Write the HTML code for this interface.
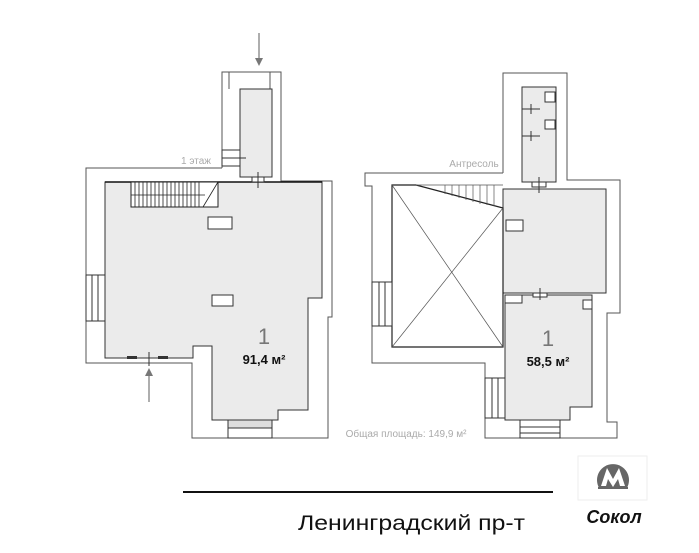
<!DOCTYPE html>
<html><head><meta charset="utf-8"><style>
body{margin:0;background:#fff;width:699px;height:553px;overflow:hidden}
svg{display:block;font-family:"Liberation Sans",sans-serif}
</style></head><body>
<svg width="699" height="553" viewBox="0 0 699 553" xmlns="http://www.w3.org/2000/svg">
<g fill="none" stroke="#555" stroke-width="1">
<polyline points="222,168 222,72 281,72 281,181 332,181 332,317 328,317 328,438 192,438 192,363 86,363 86,168 222,168"/>
<line x1="229" y1="72" x2="229" y2="89"/><line x1="270" y1="72" x2="270" y2="89"/>
</g>
<polygon points="105,182 322,182 322,298 308,298 308,410 278,410 278,420 212,420 212,346 193,346 193,358 105,358" fill="#ebebeb" stroke="#333"/>
<rect x="240" y="89" width="32" height="88" fill="#ebebeb" stroke="#333"/>
<line x1="105" y1="182" x2="322" y2="182" stroke="#111" stroke-width="1.5"/>
<rect x="131" y="182" width="87" height="25" fill="#fff" stroke="#222"/>
<g stroke="#222" stroke-width="0.8">
<line x1="135" y1="182" x2="135" y2="207"/><line x1="139" y1="182" x2="139" y2="207"/><line x1="143" y1="182" x2="143" y2="207"/><line x1="147" y1="182" x2="147" y2="207"/><line x1="151" y1="182" x2="151" y2="207"/><line x1="155" y1="182" x2="155" y2="207"/><line x1="159" y1="182" x2="159" y2="207"/><line x1="163" y1="182" x2="163" y2="207"/><line x1="167" y1="182" x2="167" y2="207"/><line x1="171" y1="182" x2="171" y2="207"/><line x1="175" y1="182" x2="175" y2="207"/><line x1="179" y1="182" x2="179" y2="207"/><line x1="183" y1="182" x2="183" y2="207"/><line x1="187" y1="182" x2="187" y2="207"/><line x1="191" y1="182" x2="191" y2="207"/><line x1="195" y1="182" x2="195" y2="207"/><line x1="199" y1="182" x2="199" y2="207"/>
<line x1="131" y1="195" x2="205" y2="195"/><line x1="203" y1="207" x2="218" y2="182"/>
</g>
<rect x="208" y="217" width="24" height="12" fill="#fff" stroke="#333"/>
<rect x="212" y="295" width="21" height="11" fill="#fff" stroke="#333"/>
<g stroke="#333" fill="#fff">
<rect x="86" y="275" width="19" height="46"/><line x1="92" y1="275" x2="92" y2="321"/><line x1="98" y1="275" x2="98" y2="321"/>
<rect x="222" y="150" width="18" height="16"/><line x1="222" y1="158" x2="246" y2="158"/>
<rect x="252" y="177" width="12" height="5"/><line x1="258" y1="172" x2="258" y2="188"/>
<rect x="228" y="420" width="44" height="8" fill="#ddd"/>
<rect x="228" y="428" width="44" height="10"/>
<line x1="149" y1="352" x2="149" y2="366"/>
</g>
<rect x="127" y="356" width="10" height="3" fill="#333"/><rect x="158" y="356" width="10" height="3" fill="#333"/>
<g stroke="#777" stroke-width="1.2">
<line x1="259" y1="33" x2="259" y2="62"/><line x1="149" y1="402" x2="149" y2="372"/>
</g>
<polygon points="255,58 263,58 259,66" fill="#777"/><polygon points="145,376 153,376 149,368" fill="#777"/>
<text x="196" y="164" font-size="10" fill="#aaa" text-anchor="middle">1 этаж</text>
<text x="264" y="344" font-size="22" fill="#777" text-anchor="middle">1</text>
<text x="264" y="364" font-size="13" font-weight="bold" fill="#111" text-anchor="middle">91,4 м²</text>

<g fill="none" stroke="#555">
<polyline points="503,173 503,73 567,73 567,180 620,180 620,313 607,313 607,422 617,422 617,438 485,438 485,363 372,363 372,186 365,186 365,173 503,173"/>
</g>
<rect x="522" y="87" width="34" height="95" fill="#ebebeb" stroke="#333"/>
<rect x="503" y="189" width="103" height="104" fill="#ebebeb" stroke="#333"/>
<polygon points="505,295 592,295 592,407 570,407 570,420 505,420" fill="#ebebeb" stroke="#333"/>
<polygon points="392,185 416,185 503,208 503,347 392,347" fill="#fff" stroke="#222" stroke-width="1.2"/>
<g stroke="#555" stroke-width="0.7">
<line x1="392" y1="185" x2="503" y2="347"/><line x1="503" y1="208" x2="392" y2="347"/>
<line x1="445" y1="185" x2="445" y2="194"/><line x1="452" y1="185" x2="452" y2="196"/><line x1="459" y1="185" x2="459" y2="198"/><line x1="466" y1="185" x2="466" y2="200"/><line x1="473" y1="185" x2="473" y2="202"/><line x1="480" y1="185" x2="480" y2="204"/><line x1="487" y1="185" x2="487" y2="205"/><line x1="494" y1="185" x2="494" y2="206"/>
<line x1="416" y1="185" x2="503" y2="185"/>
</g>
<g stroke="#333" fill="#fff">
<rect x="506" y="220" width="17" height="11"/>
<rect x="505" y="295" width="17" height="8"/>
<rect x="583" y="300" width="9" height="9"/>
<rect x="545" y="92" width="10" height="10"/>
<rect x="545" y="120" width="10" height="9"/>
<line x1="522" y1="109" x2="540" y2="109"/><line x1="531" y1="104" x2="531" y2="114"/>
<line x1="522" y1="136" x2="540" y2="136"/><line x1="531" y1="131" x2="531" y2="141"/>
<rect x="532" y="182" width="14" height="5"/><line x1="539" y1="177" x2="539" y2="193"/>
<rect x="533" y="293" width="14" height="4"/><line x1="540" y1="288" x2="540" y2="300"/>
<rect x="372" y="282" width="20" height="44"/><line x1="379" y1="282" x2="379" y2="326"/><line x1="385" y1="282" x2="385" y2="326"/>
<rect x="485" y="378" width="20" height="40"/><line x1="492" y1="378" x2="492" y2="418"/><line x1="498" y1="378" x2="498" y2="418"/>
<rect x="520" y="420" width="40" height="18"/><line x1="520" y1="427" x2="560" y2="427"/><line x1="520" y1="433" x2="560" y2="433"/>
</g>
<text x="474" y="167" font-size="10" fill="#aaa" text-anchor="middle">Антресоль</text>
<text x="548" y="346" font-size="22" fill="#777" text-anchor="middle">1</text>
<text x="548" y="366" font-size="13" font-weight="bold" fill="#111" text-anchor="middle">58,5 м²</text>
<text x="406" y="437" font-size="10" fill="#aaa" text-anchor="middle">Общая площадь: 149,9 м²</text>

<line x1="183" y1="492" x2="553" y2="492" stroke="#111" stroke-width="2"/>
<text x="298" y="530" font-size="21" fill="#111" textLength="227" lengthAdjust="spacingAndGlyphs">Ленинградский пр-т</text>
<rect x="578" y="456" width="69" height="44" fill="#fff" stroke="#eee"/>
<path d="M599.1,488 A16,16 0 1 1 626.9,488 Z" fill="#666"/>
<path d="M601,486 L607,468 L613,479 L619,468 L625,486 L620,486 L618,479 L613,487 L608,479 L606,486 Z" fill="#fff"/>
<line x1="598" y1="488" x2="628" y2="488" stroke="#666" stroke-width="2"/>
<text x="614" y="523" font-size="18" font-weight="bold" font-style="italic" fill="#111" text-anchor="middle">Сокол</text>
</svg>
</body></html>
